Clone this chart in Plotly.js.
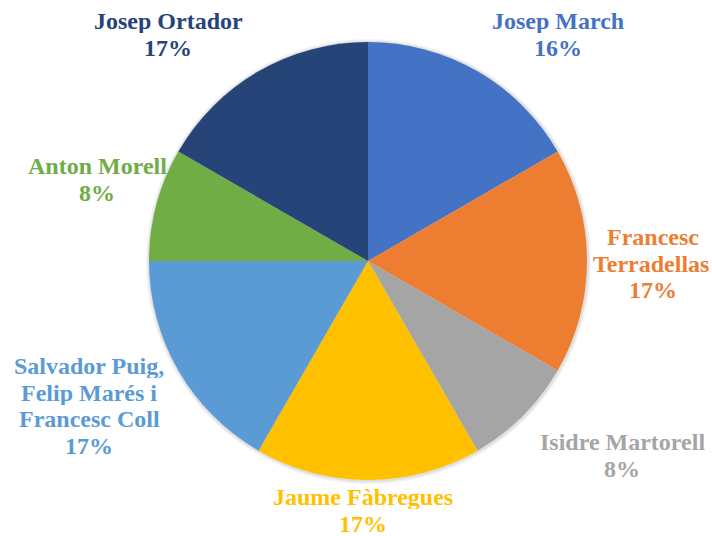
<!DOCTYPE html>
<html>
<head>
<meta charset="utf-8">
<script src="https://cdn.plot.ly/plotly-3.0.1.min.js"></script>
<style>html,body{margin:0;padding:0;background:#fff;}#chart{width:712px;height:536px;}</style>
</head>
<body>
<div id="chart"></div>
<script>
// Data (clockwise from 12 o'clock)
const names = ["Josep March", "Francesc<br>Terradellas", "Isidre Martorell", "Jaume Fàbregues",
               "Salvador Puig,<br>Felip Marés i<br>Francesc Coll", "Anton Morell", "Josep Ortador"];
const values = [2, 2, 1, 2, 2, 1, 2];
const pctLabels = ["16%", "17%", "8%", "17%", "17%", "8%", "17%"];
const colors = ["#4472C4", "#ED7D31", "#A5A5A5", "#FFC000", "#5B9BD5", "#70AD47", "#264478"];

// Label placement (pixels: block centre x, first line middle y)
const labelPos = [[558, 20], [653, 236], [622, 441], [363, 496], [89, 365], [97, 165], [168, 20]];
const lineStep = 26.7;

const W = 712, H = 536;
const cx = 368, cy = 261, R = 219;

const annotations = [];
names.forEach((n, i) => {
  const lines = n.split("<br>").concat([pctLabels[i]]);
  lines.forEach((t, k) => {
    let px = labelPos[i][0];
    if (t === "Terradellas") px -= 2;
    const py = labelPos[i][1] + k * lineStep + 1;
    annotations.push({
      text: "<b>" + t + "</b>", xref: "paper", yref: "paper",
      x: px / W, y: 1 - py / H, xanchor: "center", yanchor: "middle",
      height: 24, valign: "middle",
      showarrow: false,
      font: {family: "Liberation Serif", size: 24, color: colors[i]}
    });
  });
});

const trace = {
  type: "pie",
  labels: names.map(n => n.replace(/<br>/g, " ")),
  values: values,
  sort: false,
  direction: "clockwise",
  rotation: 0,
  marker: {colors: colors, line: {width: 0}},
  textinfo: "none",
  hoverinfo: "none",
  showlegend: false,
  domain: {x: [(cx - R) / W, (cx + R) / W], y: [(H - cy - R) / H, (H - cy + R) / H]}
};

// soft shadow around the pie
const glow = [[3.5, "rgba(0,0,0,0.05)"], [1.8, "rgba(0,0,0,0.07)"]].map(([d, c]) => ({
  type: "circle", xref: "paper", yref: "paper", layer: "below",
  x0: (cx - R - d + 0.5) / W, x1: (cx + R + d + 0.5) / W,
  y0: (H - cy - R - d - 0.5) / H, y1: (H - cy + R + d - 0.5) / H,
  fillcolor: c, line: {width: 0}
}));

Plotly.newPlot("chart", [trace], {
  width: W, height: H,
  margin: {l: 0, r: 0, t: 0, b: 0},
  paper_bgcolor: "#ffffff",
  plot_bgcolor: "rgba(0,0,0,0)",
  showlegend: false,
  shapes: glow,
  annotations: annotations
}, {staticPlot: true});
</script>
</body>
</html>
